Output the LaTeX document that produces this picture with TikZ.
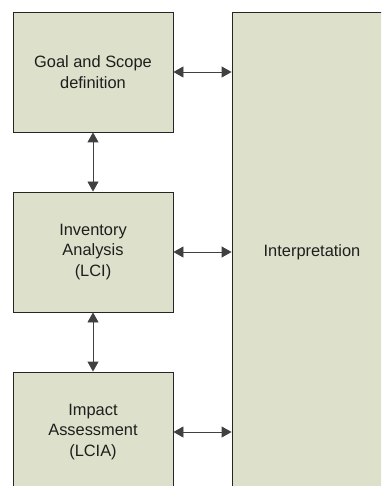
\documentclass[tikz,border=0pt]{standalone}
\usepackage{fontspec}
\setmainfont{Liberation Sans}
\usetikzlibrary{arrows.meta}
\definecolor{boxfill}{RGB}{221,224,202}
\definecolor{textcol}{RGB}{30,30,30}
\begin{document}
\begin{tikzpicture}[x=1pt,y=-1pt,
  phase/.style={draw=black!85, line width=0.9pt, fill=boxfill,
    minimum width=160pt, minimum height=120pt, align=center,
    inner sep=0pt, text=textcol,
    font=\fontsize{16.4pt}{20.5pt}\selectfont},
  link/.style={line width=0.9pt, draw=black!75,
    {Triangle[length=10pt,width=11pt]}-{Triangle[length=10pt,width=11pt]}}]
\useasboundingbox (0,0) rectangle (381,486);
\clip (0,0) rectangle (381,486);
\node[phase] (goal) at (93,72) {Goal and Scope\\definition};
\node[phase] (inv) at (93,252) {Inventory\\Analysis\\(LCI)};
\node[phase] (imp) at (93,432) {Impact\\Assessment\\(LCIA)};
\node[phase, minimum height=480pt] (interp) at (312,252) {Interpretation};
\draw[link] (goal.south) -- (inv.north);
\draw[link] (inv.south) -- (imp.north);
\draw[link] (goal.east) -- (goal.east -| interp.west);
\draw[link] (inv.east) -- (inv.east -| interp.west);
\draw[link] (imp.east) -- (imp.east -| interp.west);
\end{tikzpicture}
\end{document}
